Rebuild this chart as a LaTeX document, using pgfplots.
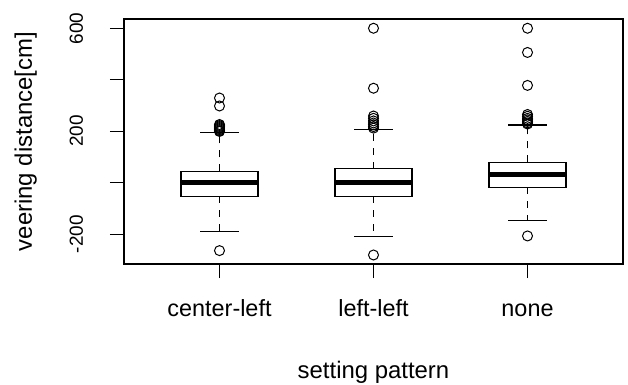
\documentclass[border=0pt]{standalone}
\usepackage{pgfplots}
\pgfplotsset{compat=1.18}
\usepackage{fontspec}
\setmainfont{Liberation Sans}
\begin{document}
\begin{tikzpicture}
\useasboundingbox (0bp,0bp) rectangle (628bp,385bp);
\begin{axis}[
  at={(124bp,121bp)}, anchor=south west,
  scale only axis, width=499bp, height=245bp,
  xmin=0.38, xmax=3.62, ymin=-316, ymax=636,
  axis line style={line width=1.2bp},
  xtick={1,2,3}, xticklabels={center-left,left-left,none},
  ytick={-200,0,200,400,600}, yticklabels={-200,,200,,600},
  xtick pos=lower, ytick pos=left, tick align=outside, major tick length=14bp,
  every tick/.style={black, line width=1.2bp},
  xticklabel style={font=\fontsize{23.5}{28}\selectfont, anchor=base, inner sep=0pt, yshift=-38bp},
  yticklabel style={font=\fontsize{19}{23}\selectfont, xshift=-27bp, rotate=90, anchor=base, inner sep=0pt},
  every axis x label/.style={at={(axis description cs:0.5,0)}, yshift=-114bp, anchor=base, inner sep=0pt, font=\fontsize{24}{29}\selectfont},
  every axis y label/.style={at={(axis description cs:0,0.5)}, xshift=-92bp, rotate=90, anchor=base, inner sep=0pt, font=\fontsize{24}{29}\selectfont},
  xlabel={setting pattern}, ylabel={veering distance[cm]},
  clip=false,
]
% ---- center-left (x=1) ----
\addplot[black, line width=1.2bp] coordinates {(0.75,-53)(1.25,-53)(1.25,44)(0.75,44)} -- cycle;
\addplot[black, line width=4.5bp] coordinates {(0.75,1)(1.25,1)};
\addplot[black, line width=1.2bp, dash pattern=on 7bp off 7bp] coordinates {(1,44)(1,194)};
\addplot[black, line width=1.2bp, dash pattern=on 7bp off 7bp] coordinates {(1,-53)(1,-191)};
\addplot[black, line width=1.2bp] coordinates {(0.875,194)(1.125,194)};
\addplot[black, line width=1.2bp] coordinates {(0.875,-191)(1.125,-191)};
\addplot[black, only marks, mark=o, mark size=5bp, mark options={line width=1bp}] coordinates {
(1,-264)(1,329)(1,298)(1,226)(1,222)(1,218)(1,214)(1,210)(1,206)(1,202)(1,199)};
% ---- left-left (x=2) ----
\addplot[black, line width=1.2bp] coordinates {(1.75,-53)(2.25,-53)(2.25,55)(1.75,55)} -- cycle;
\addplot[black, line width=4.5bp] coordinates {(1.75,1)(2.25,1)};
\addplot[black, line width=1.2bp, dash pattern=on 7bp off 7bp] coordinates {(2,55)(2,207)};
\addplot[black, line width=1.2bp, dash pattern=on 7bp off 7bp] coordinates {(2,-53)(2,-209)};
\addplot[black, line width=1.2bp] coordinates {(1.875,207)(2.125,207)};
\addplot[black, line width=1.2bp] coordinates {(1.875,-209)(2.125,-209)};
\addplot[black, only marks, mark=o, mark size=5bp, mark options={line width=1bp}] coordinates {
(2,-281)(2,600)(2,367)(2,259)(2,250)(2,240)(2,232)(2,225)(2,218)(2,212)};
% ---- none (x=3) ----
\addplot[black, line width=1.2bp] coordinates {(2.75,-18)(3.25,-18)(3.25,79)(2.75,79)} -- cycle;
\addplot[black, line width=4.5bp] coordinates {(2.75,32)(3.25,32)};
\addplot[black, line width=1.2bp, dash pattern=on 7bp off 7bp] coordinates {(3,79)(3,224)};
\addplot[black, line width=1.2bp, dash pattern=on 7bp off 7bp] coordinates {(3,-18)(3,-147)};
\addplot[black, line width=1.2bp] coordinates {(2.875,224)(3.125,224)};
\addplot[black, line width=1.2bp] coordinates {(2.875,-147)(3.125,-147)};
\addplot[black, only marks, mark=o, mark size=5bp, mark options={line width=1bp}] coordinates {
(3,-207)(3,600)(3,506)(3,378)(3,265)(3,258)(3,250)(3,244)(3,238)(3,232)(3,228)};
\end{axis}
\end{tikzpicture}
\end{document}
